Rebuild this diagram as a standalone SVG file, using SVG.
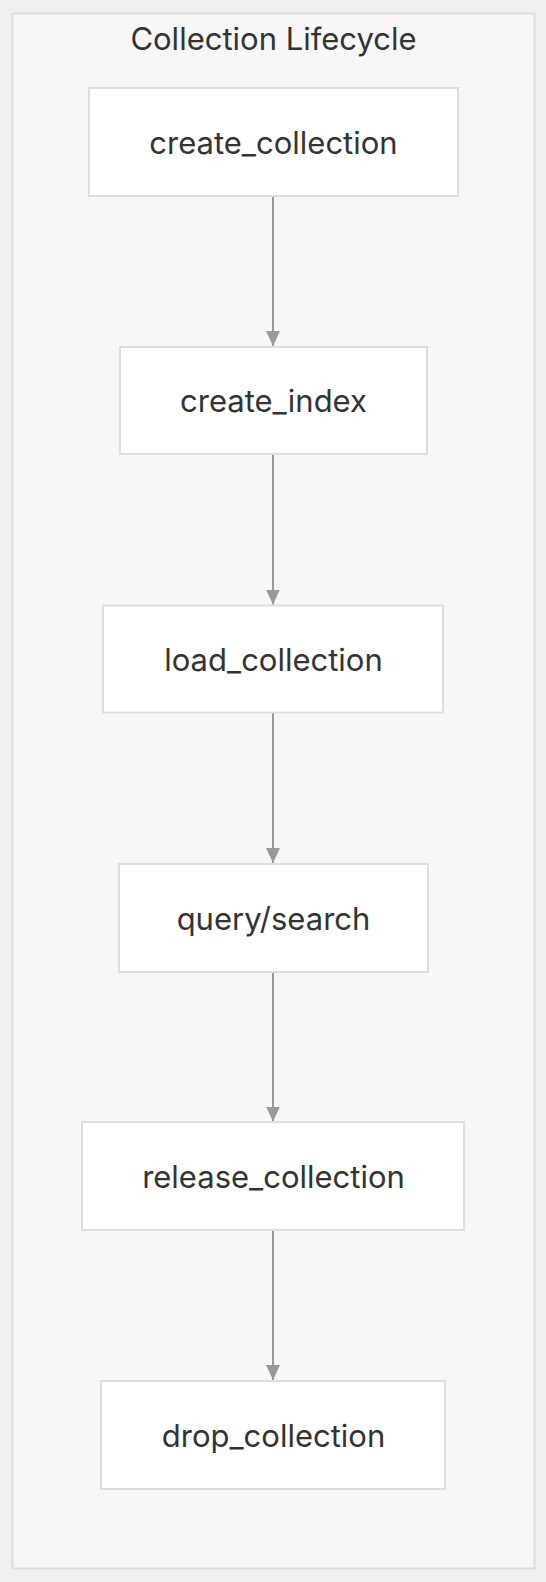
<svg xmlns="http://www.w3.org/2000/svg" width="546" height="1582" viewBox="0 0 546 1582">
<defs>
<style>
.node rect{fill:#ffffff;stroke:#dddddd;stroke-width:2}
.lbl{font-family:Inter,"Liberation Sans",sans-serif;font-size:31px;fill:#333333;text-anchor:middle;dominant-baseline:central}
.edge{stroke:#999999;stroke-width:2;fill:none}
</style>
<marker id="arr" markerWidth="16" markerHeight="14" refX="15" refY="7" orient="auto" markerUnits="userSpaceOnUse">
<path d="M0,0 L15,7 L0,14 z" fill="#999999"/>
</marker>
</defs>
<rect x="0" y="0" width="546" height="1582" fill="#f1f0ef"/>
<g id="cluster">
<rect x="12.5" y="13.5" width="522" height="1555" fill="#f7f7f7" stroke="#dddddd" stroke-width="2"/>
<text class="lbl" x="273.5" y="38">Collection Lifecycle</text>
</g>
<g id="connectors">
<line class="edge" x1="273" y1="196" x2="273" y2="346" marker-end="url(#arr)"/>
<line class="edge" x1="273" y1="455" x2="273" y2="604.5" marker-end="url(#arr)"/>
<line class="edge" x1="273" y1="713" x2="273" y2="863" marker-end="url(#arr)"/>
<line class="edge" x1="273" y1="972" x2="273" y2="1121.5" marker-end="url(#arr)"/>
<line class="edge" x1="273" y1="1230" x2="273" y2="1380" marker-end="url(#arr)"/>
</g>
<g id="n1" class="node"><rect x="89" y="88" width="369" height="108"/><text class="lbl" x="273.5" y="142">create_collection</text></g>
<g id="n2" class="node"><rect x="120" y="347" width="307" height="107"/><text class="lbl" x="273.5" y="400.5">create_index</text></g>
<g id="n3" class="node"><rect x="103" y="605.5" width="340" height="107"/><text class="lbl" x="273.5" y="659">load_collection</text></g>
<g id="n4" class="node"><rect x="119" y="864" width="309" height="108"/><text class="lbl" x="273.5" y="918">query/search</text></g>
<g id="n5" class="node"><rect x="82" y="1122" width="382" height="108"/><text class="lbl" x="273.5" y="1176">release_collection</text></g>
<g id="n6" class="node"><rect x="101" y="1381" width="344" height="108"/><text class="lbl" x="273.5" y="1435">drop_collection</text></g>
</svg>
